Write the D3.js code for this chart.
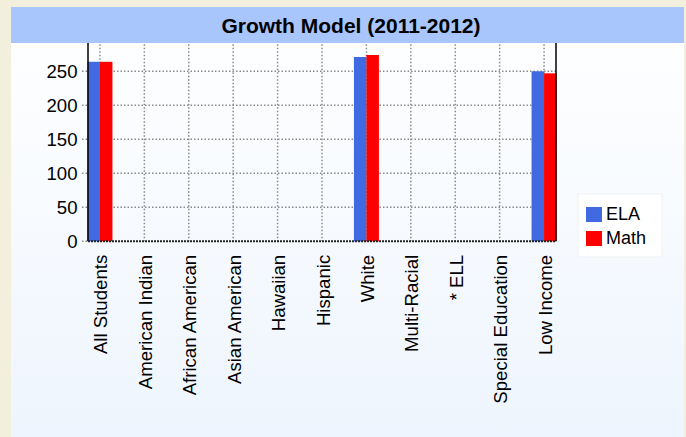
<!DOCTYPE html>
<html lang="en">
<head>
    <meta charset="UTF-8">
    <title>Growth Model (2011-2012)</title>
    <script src="https://d3js.org/d3.v7.min.js"></script>
    <style>
        body {
            margin: 0;
            padding: 0;
            background: #f2efdc;
            font-family: "Liberation Sans", Arial, sans-serif;
        }
        .grid line {
            stroke: #8a8a8a;
            stroke-width: 1.5px;
            stroke-dasharray: 1.5, 2;
        }
        .tick-label {
            font-size: 18.6px;
            fill: #000;
        }
    </style>
</head>
<body>
<div id="chart"></div>
<script>
    const categories = ["All Students", "American Indian", "African American", "Asian American",
        "Hawaiian", "Hispanic", "White", "Multi-Racial", "* ELL", "Special Education", "Low Income"];
    const elaValues  = [264, 0, 0, 0, 0, 0, 271, 0, 0, 0, 250];
    const mathValues = [264, 0, 0, 0, 0, 0, 274, 0, 0, 0, 247];
    const seriesNames = ["ELA", "Math"];
    const seriesColors = ["#4169e1", "#ff0000"];
    const yTicks = [0, 50, 100, 150, 200, 250];

    const width = 686, height = 437;
    const svg = d3.select("#chart").append("svg")
        .attr("width", width)
        .attr("height", height);

    // panel background gradient
    const defs = svg.append("defs");
    const grad = defs.append("linearGradient")
        .attr("id", "panelGrad")
        .attr("x1", 0).attr("y1", 0).attr("x2", 0).attr("y2", 1);
    grad.append("stop").attr("offset", "0%").attr("stop-color", "#ffffff");
    grad.append("stop").attr("offset", "100%").attr("stop-color", "#eef5fe");

    svg.append("rect")
        .attr("x", 11).attr("y", 7)
        .attr("width", 673).attr("height", 440)
        .attr("fill", "url(#panelGrad)");

    // scales
    const x = d3.scalePoint()
        .domain(categories)
        .range([87.5, 556.5])
        .padding(0.28);
    const y = d3.scaleLinear()
        .domain([0, 300])
        .range([241.3, 37.3]);
    const barW = 12.5;

    // horizontal grid
    svg.append("g").attr("class", "grid")
        .selectAll("line")
        .data(yTicks.filter(d => d > 0))
        .enter().append("line")
        .attr("x1", 82).attr("x2", 556.5)
        .attr("y1", d => y(d)).attr("y2", d => y(d));

    // vertical grid
    svg.append("g").attr("class", "grid")
        .selectAll("line")
        .data(categories)
        .enter().append("line")
        .attr("x1", d => x(d)).attr("x2", d => x(d))
        .attr("y1", y(300)).attr("y2", y(0));

    // y tick stub for 0
    svg.append("line")
        .attr("x1", 82).attr("x2", 88)
        .attr("y1", y(0)).attr("y2", y(0))
        .attr("stroke", "#8a8a8a").attr("stroke-width", 1.5)
        .attr("stroke-dasharray", "1.5,2");

    // bars
    const series = [elaValues, mathValues];
    series.forEach((vals, si) => {
        svg.append("g")
            .selectAll("rect")
            .data(categories)
            .enter().append("rect")
            .attr("x", d => x(d) - barW + si * barW)
            .attr("y", (d, i) => y(vals[i]))
            .attr("width", barW)
            .attr("height", (d, i) => y(0) - y(vals[i]))
            .attr("fill", seriesColors[si]);
    });

    // frame lines
    svg.append("line")
        .attr("x1", 88).attr("x2", 88)
        .attr("y1", y(300)).attr("y2", y(0))
        .attr("stroke", "#000").attr("stroke-width", 1.5);
    svg.append("line")
        .attr("x1", 556).attr("x2", 556)
        .attr("y1", y(300)).attr("y2", y(0))
        .attr("stroke", "#000").attr("stroke-width", 1.5);
    svg.append("line")
        .attr("x1", 88).attr("x2", 556)
        .attr("y1", y(0)).attr("y2", y(0))
        .attr("stroke", "#222").attr("stroke-width", 2)
        .attr("stroke-dasharray", "2,1");

    // y labels
    svg.append("g")
        .selectAll("text")
        .data(yTicks)
        .enter().append("text")
        .attr("class", "tick-label")
        .attr("x", 77.5)
        .attr("y", d => y(d))
        .attr("dy", "0.35em")
        .attr("text-anchor", "end")
        .text(d => d);

    // x labels
    svg.append("g")
        .selectAll("text")
        .data(categories)
        .enter().append("text")
        .attr("class", "tick-label")
        .attr("transform", d => `translate(${x(d) + 1},${y(0) + 13.5}) rotate(-90)`)
        .attr("dy", "0.35em")
        .attr("text-anchor", "end")
        .text(d => d);

    // header
    svg.append("rect")
        .attr("x", 11).attr("y", 7)
        .attr("width", 673).attr("height", 36)
        .attr("fill", "#a8c6fc");
    svg.append("text")
        .attr("x", 351).attr("y", 33)
        .attr("text-anchor", "middle")
        .attr("font-size", "21px")
        .attr("font-weight", "bold")
        .text("Growth Model (2011-2012)");

    // legend
    const legend = svg.append("g");
    legend.append("rect")
        .attr("x", 578).attr("y", 194)
        .attr("width", 84).attr("height", 63)
        .attr("fill", "#ffffff")
        .attr("stroke", "#eef0f4");
    seriesNames.forEach((name, i) => {
        legend.append("rect")
            .attr("x", 586).attr("y", 207 + i * 24)
            .attr("width", 16).attr("height", 15)
            .attr("fill", seriesColors[i]);
        legend.append("text")
            .attr("x", 606).attr("y", 220 + i * 24)
            .attr("font-size", "18px")
            .text(name);
    });
</script>
</body>
</html>
